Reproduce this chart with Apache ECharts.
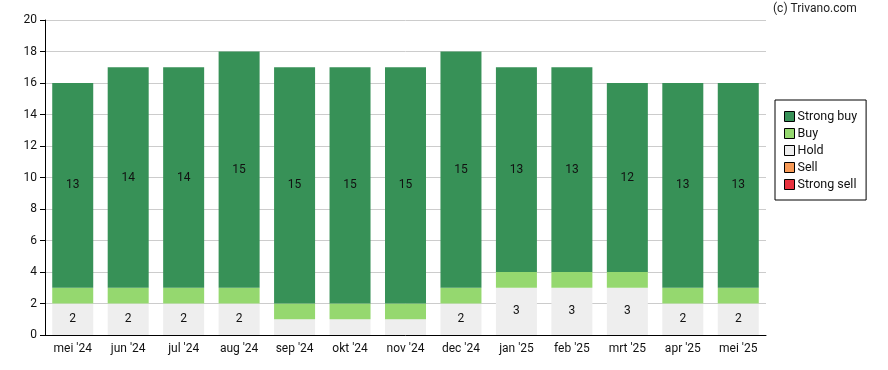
<!DOCTYPE html>
<html><head><meta charset="utf-8">
<script src="https://cdn.jsdelivr.net/npm/echarts@6/dist/echarts.min.js"></script>
<style>html,body{margin:0;padding:0;background:#fff}#c{width:888px;height:370px}</style>
</head><body><div id="c"></div>
<script>
const categories = ["mei '24","jun '24","jul '24","aug '24","sep '24","okt '24","nov '24","dec '24","jan '25","feb '25","mrt '25","apr '25","mei '25"];
const strongSell = [0,0,0,0,0,0,0,0,0,0,0,0,0];
const sell = [0,0,0,0,0,0,0,0,0,0,0,0,0];
const hold = [2,2,2,2,1,1,1,2,3,3,3,2,2];
const buy = [1,1,1,1,1,1,1,1,1,1,1,1,1];
const strongBuy = [13,14,14,15,15,15,15,15,13,13,12,13,13];
const yTicks = [0,2,4,6,8,10,12,14,16,18,20];

const font = 'Roboto';
function mk(name, data, color){
  return {
    name, type:'bar', stack:'a', data, barWidth:41,
    itemStyle:{color},
    label:{show:true, position:'inside', color:'#111', fontSize:12, fontFamily:font,
      formatter:p=> p.value>=2 ? String(p.value) : ''},
    emphasis:{disabled:true}
  };
}
const chart = echarts.init(document.getElementById('c'));
chart.setOption({
  animation:false,
  textStyle:{fontFamily:font},
  grid:{left:45, top:20, width:721, height:315},
  graphic:[{type:'text', left:773, top:3, style:{text:'(c) Trivano.com', fontSize:12, fontFamily:font, fill:'#222'}}],
  legend:{
    orient:'vertical', left:775, top:100, width:90,
    data:['Strong buy','Buy','Hold','Sell','Strong sell'],
    icon:'rect',
    borderColor:'#000', borderWidth:1, padding:[10,9,9,9],
    itemWidth:10, itemHeight:10, itemGap:4,
    itemStyle:{borderColor:'#000', borderWidth:1},
    textStyle:{fontSize:12.5, fontFamily:font, color:'#111', padding:[0,0,0,-2]},
    selectedMode:false
  },
  xAxis:{type:'category', data:categories,
    axisLine:{lineStyle:{color:'#000'}},
    axisTick:{alignWithLabel:true, lineStyle:{color:'#000'}},
    axisLabel:{color:'#111', fontSize:12, fontFamily:font, margin:8}},
  yAxis:{type:'value', min:yTicks[0], max:yTicks[yTicks.length-1], interval:2,
    axisLine:{show:true, lineStyle:{color:'#000'}},
    axisTick:{show:true, length:5, lineStyle:{color:'#000'}},
    axisLabel:{color:'#111', fontSize:12, fontFamily:font, margin:8},
    splitLine:{lineStyle:{color:'#ccc'}}},
  series:[
    mk('Hold', hold, '#eeeeee'),
    mk('Buy', buy, '#95d86f'),
    mk('Strong buy', strongBuy, '#379157'),
    mk('Sell', sell, '#f79a57'),
    mk('Strong sell', strongSell, '#e8323f')
  ]
});
</script></body></html>
